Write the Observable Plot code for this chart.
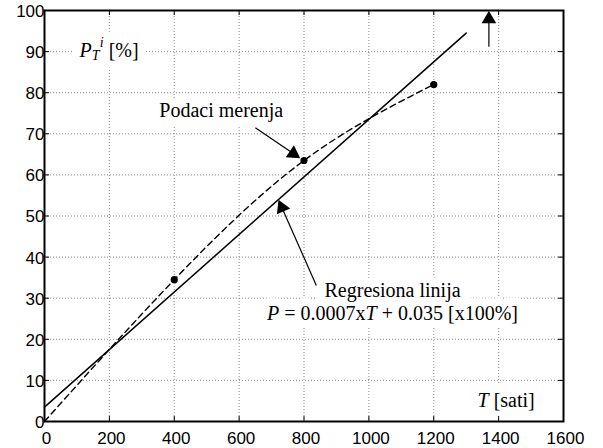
<!DOCTYPE html>
<html><head><meta charset="utf-8">
<script src="https://cdn.jsdelivr.net/npm/d3@7"></script>
<script src="https://cdn.jsdelivr.net/npm/@observablehq/plot@0.6"></script>
<style>body{margin:0;background:#fff} svg{display:block}</style>
</head><body><div id="chart"></div>
<script>
// ---- data ----
const xTicks = [0, 200, 400, 600, 800, 1000, 1200, 1400, 1600];
const yTicks = [0, 10, 20, 30, 40, 50, 60, 70, 80, 90, 100];
const measT = [400, 800, 1200];
const measP = [34.5, 63.5, 82];
const curveT = [0, 400, 800, 1200];
const curveP = [0, 34.5, 63.5, 82];
const regT = [0, 1300];
const regP = [3.5, 94.5];
const arrowTailT = [650, 838, 1370];
const arrowTailP = [71.5, 33.1, 91.2];
const arrowTipT = [789, 721, 1370];
const arrowTipP = [64.0, 54.0, 100];
const labels = ["PTi [%]", "Podaci merenja", "Regresiona linija", "P = 0.0007xT + 0.035 [x100%]", "T [sati]"];
const labelT = [108, 354, 1073, 1073, 1335];
const labelP = [88.6, 74.0, 30.4, 24.8, 3.6];
const labelAnchor = ["start", "start", "middle", "middle", "start"];

// ---- tables ----
const meas = measT.map((t, i) => ({t, p: measP[i]}));
const curve = curveT.map((t, i) => ({t, p: curveP[i]}));
const reg = regT.map((t, i) => ({t, p: regP[i]}));
const labelData = labels.map((s, i) => ({s, t: labelT[i], p: labelP[i], a: labelAnchor[i]}));

const W = 603, H = 448, mL = 44, mR = 40, mT = 10, mB = 27;
const innerH = H - mT - mB, innerW = W - mL - mR;
const serif = "Liberation Serif, Times New Roman, serif";
const sans = "Liberation Sans, Arial, sans-serif";

function labelMarks(halo) {
  return ["start", "middle"].map(a => Plot.text(labelData.filter(d => d.a === a), {
    x: "t", y: "p", text: "s", textAnchor: a, lineAnchor: "bottom",
    fontFamily: serif, fontSize: 20,
    fill: halo ? "white" : "black",
    ...(halo ? {stroke: "white", strokeWidth: 16, strokeLinejoin: "round"} : {})
  }));
}

function baseMarks() {
  return [
    Plot.ruleX(xTicks, {x: d => d, stroke: "#8a8a8a", strokeDasharray: "1,2"}),
    Plot.ruleY(yTicks, {y: d => d, stroke: "#8a8a8a", strokeDasharray: "1,2"}),
    ...labelMarks(true),
    ...labelMarks(false),
    // inward ticks on all four sides
    Plot.ruleX(xTicks, {x: d => d, insetTop: innerH - 5, stroke: "black"}),
    Plot.ruleX(xTicks, {x: d => d, insetBottom: innerH - 5, stroke: "black"}),
    Plot.ruleY(yTicks, {y: d => d, insetRight: innerW - 5, stroke: "black"}),
    Plot.ruleY(yTicks, {y: d => d, insetLeft: innerW - 5, stroke: "black"}),
    // tick labels
    Plot.text(xTicks, {x: d => d, y: 0, text: d => String(d), lineAnchor: "top", dy: 10, dx: 2, fontFamily: sans, fontSize: 17, fill: "black"}),
    Plot.text(yTicks, {x: 0, y: d => d, text: d => String(d), textAnchor: "end", dx: 0, dy: 1, fontFamily: sans, fontSize: 17, fill: "black"}),
    Plot.line(curve, {x: "t", y: "p", curve: "natural", stroke: "black", strokeWidth: 1.4, strokeDasharray: "6,4"}),
    Plot.line(reg, {x: "t", y: "p", stroke: "black", strokeWidth: 1.5}),
    Plot.dot(meas, {x: "t", y: "p", r: 3.6, fill: "black", stroke: "none"}),
    Plot.frame({stroke: "black", strokeWidth: 2})
  ];
}

function build(extra) {
  return Plot.plot({
    width: W, height: H,
    marginLeft: mL, marginRight: mR, marginTop: mT, marginBottom: mB,
    style: {fontFamily: sans, fontSize: "17px", color: "black", background: "white"},
    x: {domain: [0, 1600], axis: null},
    y: {domain: [0, 100], axis: null},
    marks: [...baseMarks(), ...extra]
  });
}

const probe = build([]);
const sx = probe.scale("x"), sy = probe.scale("y");
const fx = d3.scaleLinear(sx.domain, sx.range), fy = d3.scaleLinear(sy.domain, sy.range);
const headH = 13;
const arrows = arrowTipT.map((_, i) => {
  const x0 = fx(arrowTailT[i]), y0 = fy(arrowTailP[i]);
  const x1 = fx(arrowTipT[i]), y1 = fy(arrowTipP[i]);
  const L = Math.hypot(x1 - x0, y1 - y0), ux = (x1 - x0) / L, uy = (y1 - y0) / L;
  return {
    t0: arrowTailT[i], p0: arrowTailP[i],
    t1: fx.invert(x1 - ux * headH * 0.7), p1: fy.invert(y1 - uy * headH * 0.7),
    ct: fx.invert(x1 - ux * headH * 2 / 3), cp: fy.invert(y1 - uy * headH * 2 / 3),
    rot: Math.atan2(ux, -uy) * 180 / Math.PI
  };
});

const chart = build([
  Plot.link(arrows, {x1: "t0", y1: "p0", x2: "t1", y2: "p1", stroke: "black", strokeWidth: 1.2}),
  Plot.dot(arrows, {x: "ct", y: "cp", rotate: "rot", symbol: "triangle", r: 5.4, fill: "black", stroke: "none"})
]);
document.getElementById("chart").appendChild(chart);

// rich text (italics, sub/superscripts)
const rich = {
  "PTi [%]": [["P", {fs: "italic"}], ["T", {fs: "italic", size: 14, dy: 3}], ["i", {fs: "italic", size: 14, dy: -13, dx: 1}], [" [%]", {dy: 10, size: 20}]],
  "P = 0.0007xT + 0.035 [x100%]": [["P", {fs: "italic"}], [" = 0.0007x", {}], ["T", {fs: "italic"}], [" + 0.035 [x100%]", {}]],
  "T [sati]": [["T", {fs: "italic"}], [" [sati]", {}]]
};
d3.select(chart).selectAll("text").each(function () {
  const parts = rich[this.textContent];
  if (!parts) return;
  const el = d3.select(this);
  el.text(null);
  for (const [s, o] of parts) {
    const ts = el.append("tspan").text(s);
    if (o.fs) ts.attr("font-style", o.fs);
    if (o.size) ts.attr("font-size", o.size);
    if (o.dy) ts.attr("dy", o.dy);
    if (o.dx) ts.attr("dx", o.dx);
  }
});
</script>
</body></html>
